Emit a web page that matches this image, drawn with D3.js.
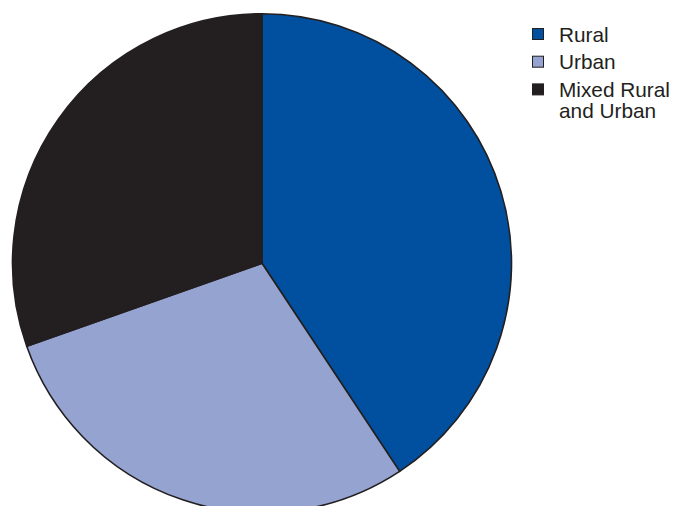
<!DOCTYPE html>
<html>
<head>
<meta charset="utf-8">
<script src="https://cdn.jsdelivr.net/npm/d3@7"></script>
<style>
  html, body { margin: 0; padding: 0; background: #ffffff; }
  svg { display: block; }
</style>
</head>
<body>
<svg id="chart" width="688" height="506"></svg>
<script>
// Share of areas by type (percent)
const categories = ["Rural", "Urban", "Mixed Rural|and Urban"];
const shares = [40.7, 28.9, 30.4];
const colors = ["#00509f", "#95a3d0", "#231f20"];

const svg = d3.select("#chart");
const cx = 262, cy = 263.3, radius = 249.5;

const data = categories.map((c, i) => ({ name: c, value: shares[i], color: colors[i] }));

const pie = d3.pie().sort(null).value(d => d.value);
const arc = d3.arc().innerRadius(0).outerRadius(radius);

const g = svg.append("g").attr("transform", `translate(${cx},${cy})`);
g.selectAll("path")
  .data(pie(data))
  .join("path")
  .attr("d", arc)
  .attr("fill", d => d.data.color)
  .attr("stroke", "#231f20")
  .attr("stroke-width", 1.6)
  .attr("stroke-linejoin", "round");

// Legend
const legend = svg.append("g").attr("transform", "translate(532,28)");
const rowY = d3.scaleLinear().domain([0, 1]).range([0, 27.7]);
const rows = legend.selectAll("g.row")
  .data(data)
  .join("g")
  .attr("class", "row")
  .attr("transform", (d, i) => `translate(0,${rowY(i)})`);

rows.append("rect")
  .attr("x", 0.5).attr("y", 0.5)
  .attr("width", 11).attr("height", 11)
  .attr("fill", d => d.color)
  .attr("stroke", "#231f20")
  .attr("stroke-width", 1);

rows.append("text")
  .attr("x", 27)
  .attr("y", 13.5)
  .attr("font-family", "Liberation Sans, Arial, sans-serif")
  .attr("font-size", 20.8)
  .attr("fill", "#231f20")
  .selectAll("tspan")
  .data(d => d.name.split("|"))
  .join("tspan")
  .attr("x", 27)
  .attr("dy", (t, i) => i === 0 ? 0 : 21.6)
  .text(t => t);
</script>
</body>
</html>
